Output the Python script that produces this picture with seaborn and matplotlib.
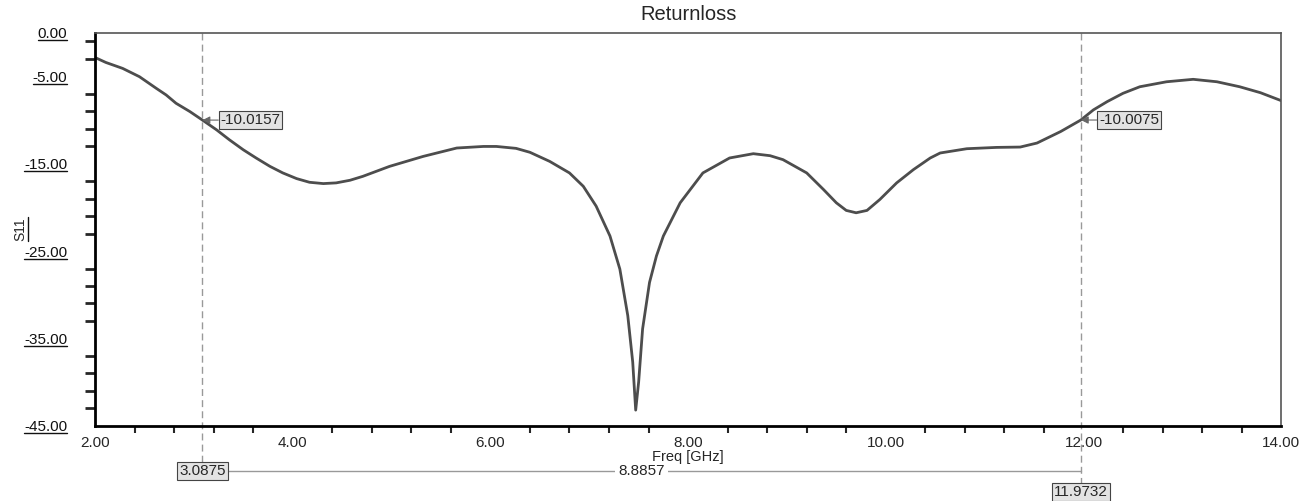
import matplotlib
matplotlib.use("Agg")
import matplotlib.pyplot as plt
import matplotlib.transforms as mtransforms
from matplotlib.lines import Line2D
from matplotlib.ticker import FixedLocator, MultipleLocator, FormatStrFormatter
import seaborn as sns

freq = [2.00, 2.11, 2.28, 2.45, 2.62, 2.72, 2.82, 2.96, 3.0875, 3.23, 3.36, 3.50,
        3.63, 3.77, 3.90, 4.04, 4.17, 4.31, 4.44, 4.58, 4.71, 4.98, 5.32, 5.66,
        5.93, 6.06, 6.26, 6.40, 6.60, 6.80, 6.94, 7.07, 7.21, 7.31, 7.39, 7.44,
        7.47, 7.50, 7.54, 7.61, 7.68, 7.75, 7.92, 8.15, 8.42, 8.66, 8.83, 8.96,
        9.20, 9.37, 9.50, 9.60, 9.70, 9.81, 9.94, 10.11, 10.28, 10.45, 10.55,
        10.82, 11.12, 11.36, 11.53, 11.77, 11.9732, 12.10, 12.24, 12.40, 12.57,
        12.84, 13.11, 13.35, 13.58, 13.79, 14.00]
s11 = [-2.85, -3.42, -4.10, -5.05, -6.38, -7.14, -8.09, -9.04, -10.0157, -11.13, -12.27, -13.41,
       -14.35, -15.31, -16.06, -16.71, -17.13, -17.28, -17.2, -16.9, -16.45, -15.31, -14.17, -13.21,
       -13.03, -13.03, -13.25, -13.7, -14.74, -16.06, -17.59, -19.86, -23.28, -27.07, -32.39, -37.7,
       -43.2, -39.98, -33.9, -28.59, -25.56, -23.28, -19.48, -16.06, -14.35, -13.86, -14.09, -14.54,
       -16.06, -17.96, -19.48, -20.35, -20.62, -20.35, -19.1, -17.2, -15.68, -14.35, -13.78,
       -13.29, -13.14, -13.1, -12.64, -11.32, -10.0075, -8.85, -7.9, -6.95, -6.2,
       -5.63, -5.35, -5.63, -6.2, -6.88, -7.79]

# Marcadores
m_freq = [3.0875, 11.9732]
m_val = [-10.0157, -10.0075]
m_labels = ["-10.0157", "-10.0075"]
delta_label = "8.8857"

y_major = [0, -5, -15, -25, -35, -45]
y_minor = [v for v in range(-1, -45, -2) if v not in y_major]

sns.set_style("white")
plt.rcParams['font.family'] = ['Liberation Sans', 'DejaVu Sans']

fig = plt.figure(figsize=(13.1, 5.01), dpi=100)
ax = fig.add_axes([0.0725, 0.150, 0.9055, 0.785])

sns.lineplot(x=freq, y=s11, ax=ax, color="#4d4d4d", linewidth=2.0, sort=False)

ax.set_xlim(2, 14)
ax.set_ylim(-45, 0)
ax.xaxis.set_major_locator(MultipleLocator(2))
ax.xaxis.set_minor_locator(MultipleLocator(0.4))
ax.xaxis.set_major_formatter(FormatStrFormatter("%.2f"))
ax.yaxis.set_major_locator(FixedLocator(y_major))
ax.yaxis.set_minor_locator(FixedLocator(y_minor))
ax.yaxis.set_major_formatter(FormatStrFormatter("%.2f"))

ax.tick_params(axis="y", which="major", length=15, width=2, direction="out", pad=5, labelsize=11, colors="#111111")
ax.tick_params(axis="y", which="minor", length=7, width=2, direction="out", left=True)
ax.tick_params(axis="x", which="major", length=6, width=1.5, direction="out", pad=1, labelsize=11)
ax.tick_params(axis="x", which="minor", length=5, width=1.5, direction="out", bottom=True)

for s in ["left", "bottom"]:
    ax.spines[s].set_color("black")
    ax.spines[s].set_linewidth(2)
for s in ["top", "right"]:
    ax.spines[s].set_color("#555555")
    ax.spines[s].set_linewidth(1.2)

ax.set_title("Returnloss", fontsize=14.5, pad=9)
ax.set_xlabel("Freq [GHz]", fontsize=10.5)
ax.xaxis.label.set_va("center")
ax.xaxis.set_label_coords(0.5, -0.08)
ax.set_ylabel("S11", fontsize=10)
ax.yaxis.label.set_va("center")
ax.yaxis.set_label_coords(-0.063, 0.5)

# Lineas de marcador
trans = mtransforms.blended_transform_factory(ax.transData, ax.transAxes)
ax.plot([m_freq[0], m_freq[0]], [1, -0.092], transform=trans, clip_on=False,
        color="#999999", linestyle=(0, (5, 3)), linewidth=1)
ax.plot([m_freq[1], m_freq[1]], [1, -0.152], transform=trans, clip_on=False,
        color="#999999", linestyle=(0, (5, 3)), linewidth=1)

box = dict(boxstyle="square,pad=0.12", facecolor="#e3e3e3", edgecolor="#444444", linewidth=0.8)
for f, v, lab in zip(m_freq, m_val, m_labels):
    ax.annotate(lab, xy=(f, v), xytext=(13, 0), textcoords="offset points",
                ha="left", va="center", fontsize=11, bbox=box,
                arrowprops=dict(arrowstyle="-|>,head_width=0.2,head_length=0.4",
                                color="#666666", linewidth=0.8, shrinkA=0, shrinkB=0))

# Delta entre marcadores
ax.plot(m_freq, [-0.115, -0.115], transform=trans, clip_on=False, color="#999999", linewidth=1)
ax.text(m_freq[0], -0.115, "%.4f" % m_freq[0], transform=trans, ha="center", va="center",
        fontsize=11, bbox=box, clip_on=False)
ax.text(m_freq[1], -0.168, "%.4f" % m_freq[1], transform=trans, ha="center", va="center",
        fontsize=11, bbox=box, clip_on=False)
ax.text((m_freq[0] + m_freq[1]) / 2, -0.115, delta_label, transform=trans, ha="center",
        va="center", fontsize=11, clip_on=False,
        bbox=dict(boxstyle="square,pad=0.2", facecolor="white", edgecolor="none"))

# Subrayado de etiquetas del eje Y
fig.canvas.draw()
W, H = fig.bbox.width, fig.bbox.height
for t in ax.get_yticklabels() + [ax.yaxis.label]:
    bb = t.get_window_extent()
    if t is ax.yaxis.label:
        x = bb.x1 + 1
        fig.add_artist(Line2D([x / W, x / W], [bb.y0 / H, bb.y1 / H], color="#111111", linewidth=1))
    else:
        y = bb.y0 + 1
        fig.add_artist(Line2D([bb.x0 / W, bb.x1 / W], [y / H, y / H], color="#111111", linewidth=1))

fig.savefig("out.png", dpi=100)
